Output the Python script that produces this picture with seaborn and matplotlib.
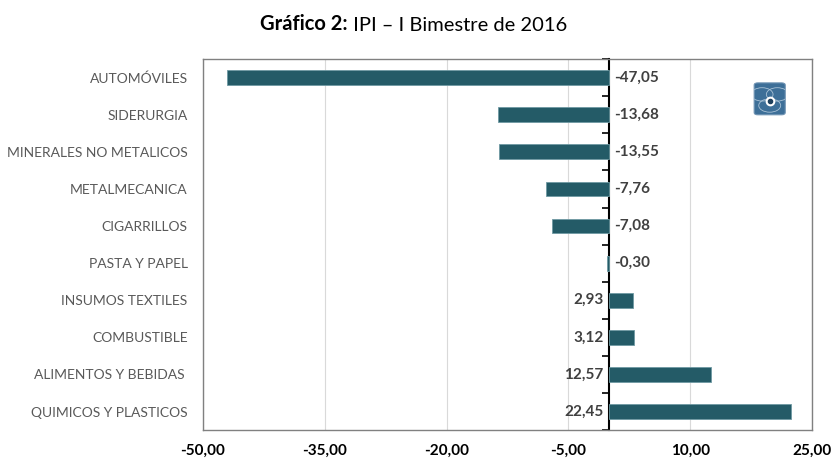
import matplotlib
matplotlib.use("Agg")
import matplotlib.pyplot as plt
import pandas as pd
import seaborn as sns
from matplotlib.patches import FancyBboxPatch, Circle

categories = [
    "AUTOMÓVILES", "SIDERURGIA", "MINERALES NO METALICOS", "METALMECANICA",
    "CIGARRILLOS", "PASTA Y PAPEL", "INSUMOS TEXTILES", "COMBUSTIBLE",
    "ALIMENTOS Y BEBIDAS ", "QUIMICOS Y PLASTICOS",
]
values = [-47.05, -13.68, -13.55, -7.76, -7.08, -0.30, 2.93, 3.12, 12.57, 22.45]
x_ticks = [-50, -35, -20, -5, 10, 25]

df = pd.DataFrame({"sector": categories, "ipi": values})

sns.set_style("white")
plt.rcParams["font.family"] = ["Lato", "DejaVu Sans"]

fig = plt.figure(figsize=(8.32, 4.62), dpi=100)
ax = fig.add_axes([0.244, 0.069, 0.732, 0.803])

sns.barplot(data=df, x="ipi", y="sector", orient="h", color="#245b67",
            width=0.4, edgecolor="#6f9aa3", linewidth=0.6, saturation=1, ax=ax)

ax.set_xlim(-50, 25)
ax.set_ylim(len(categories) - 0.5, -0.5)
ax.set_xticks(x_ticks)
ax.set_xticklabels([f"{t:.2f}".replace(".", ",") for t in x_ticks],
                   fontweight="bold", fontsize=11, color="black")
ax.tick_params(axis="x", length=0, pad=10)
ax.tick_params(axis="y", length=0, pad=11, labelsize=10, labelcolor="#595959")
ax.set_xlabel("")
ax.set_ylabel("")
ax.grid(axis="x", color="#d9d9d9", linewidth=0.8)
ax.set_axisbelow(True)
for s in ax.spines.values():
    s.set_color("#808080")
    s.set_linewidth(1)

# zero axis with category tick marks pointing left
zero = ax.secondary_yaxis(50 / 75)
zero.set_yticks([i - 0.5 for i in range(len(categories) + 1)])
zero.set_yticklabels([])
zero.tick_params(length=5, width=1.2, color="black", direction="in")
for s in zero.spines.values():
    s.set_color("black")
    s.set_linewidth(1.5)

for i, v in enumerate(values):
    lbl = f"{v:.2f}".replace(".", ",")
    if v < 0:
        ax.annotate(lbl, (0, i), xytext=(4, 0), textcoords="offset points",
                    ha="left", va="center", fontsize=11, fontweight="bold", color="#404040")
    else:
        ax.annotate(lbl, (0, i), xytext=(-4, 0), textcoords="offset points",
                    ha="right", va="center", fontsize=11, fontweight="bold", color="#404040")

# small logo
logo = FancyBboxPatch((0.905, 0.85), 0.051, 0.086, boxstyle="round,pad=0,rounding_size=0.006",
                      transform=ax.transAxes, facecolor="#3d6f98", edgecolor="#6f93b3",
                      linewidth=0.8, zorder=5, clip_on=False)
ax.add_patch(logo)
for cx, cy in [(0.918, 0.905), (0.943, 0.905), (0.9305, 0.875)]:
    ax.add_patch(Circle((cx, cy), 0.018, transform=ax.transAxes, fill=False,
                        edgecolor="#a9c2d6", linewidth=0.6, zorder=6, clip_path=logo))
ax.plot([0.9305], [0.888], marker="o", markersize=6, color="white", transform=ax.transAxes, zorder=7)
ax.plot([0.9305], [0.886], marker="o", markersize=3, color="#1d3f5c", transform=ax.transAxes, zorder=8)

t1 = fig.text(0.313, 0.935, "Gráfico 2:", fontsize=14.5, fontweight="bold", color="black")
ax.annotate(" IPI – I Bimestre de 2016", xy=(1, 0), xycoords=t1, fontsize=14.5,
            color="black", va="bottom", ha="left")

fig.savefig("out.png", dpi=100)
